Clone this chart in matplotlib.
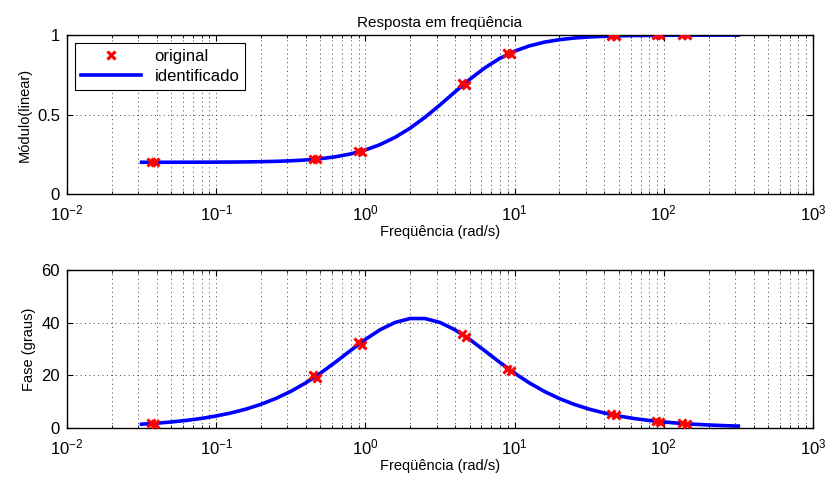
import matplotlib
matplotlib.use("Agg")
import matplotlib.pyplot as plt
from matplotlib.ticker import LogLocator, NullFormatter

plt.rcParams['font.family'] = ['Liberation Sans', 'DejaVu Sans']

# identified model curve
w_fit = [0.0316, 0.0398, 0.0501, 0.0631, 0.0794, 0.1, 0.1259, 0.1585, 0.1995, 0.2512,
         0.3162, 0.3981, 0.5012, 0.631, 0.7943, 1.0, 1.2589, 1.5849, 1.9953, 2.5119,
         3.1623, 3.9811, 5.0119, 6.3096, 7.9433, 10.0, 12.589, 15.849, 19.953, 25.119,
         31.623, 39.811, 50.119, 63.096, 79.433, 100.0, 125.89, 158.49, 199.53, 251.19, 316.23]
mag_fit = [0.2001, 0.2002, 0.2002, 0.2004, 0.2006, 0.2010, 0.2015, 0.2024, 0.2038, 0.2060,
           0.2093, 0.2146, 0.2226, 0.2346, 0.2523, 0.2774, 0.3118, 0.3573, 0.4146, 0.4832,
           0.5606, 0.6422, 0.7219, 0.7935, 0.8530, 0.8989, 0.9323, 0.9556, 0.9712, 0.9815,
           0.9882, 0.9925, 0.9953, 0.9970, 0.9981, 0.9988, 0.9992, 0.9995, 0.9997, 0.9998, 0.9999]
fase_fit = [1.45, 1.82, 2.30, 2.89, 3.63, 4.57, 5.73, 7.19, 9.00, 11.23,
            13.93, 17.15, 20.90, 25.06, 29.43, 33.69, 37.41, 40.16, 41.63, 41.62,
            40.14, 37.37, 33.65, 29.38, 25.01, 20.85, 17.12, 13.90, 11.20, 8.98,
            7.18, 5.72, 4.55, 3.62, 2.88, 2.29, 1.82, 1.45, 1.15, 0.91, 0.73]

# original measured points (two close samples per frequency)
w_orig = [0.0365, 0.039, 0.445, 0.475, 0.89, 0.95, 4.45, 4.75, 8.9, 9.5,
          44.5, 47.5, 89.0, 95.0, 133.5, 142.5]
mag_orig = [0.2003, 0.2003, 0.221, 0.218, 0.270, 0.265, 0.697, 0.688, 0.888, 0.880,
            0.995, 0.994, 0.999, 0.999, 0.999, 0.999]
fase_orig = [1.9, 1.6, 20.2, 19.0, 32.8, 31.6, 35.6, 34.5, 22.6, 21.8,
             5.3, 4.9, 2.6, 2.4, 1.8, 1.5]

fig = plt.figure(figsize=(8.27, 4.84), dpi=100)
ax1 = fig.add_axes([0.081, 0.599, 0.902, 0.3285])
ax2 = fig.add_axes([0.081, 0.1157, 0.902, 0.326])

dots = (0, (1, 3.5))


def style(ax, ylim, yticks):
    ax.set_xscale('log')
    ax.set_xlim(1e-2, 1e3)
    ax.set_ylim(*ylim)
    ax.set_yticks(yticks)
    ax.xaxis.set_major_locator(LogLocator(base=10, numticks=10))
    ax.xaxis.set_minor_locator(LogLocator(base=10, subs=range(2, 10), numticks=20))
    ax.xaxis.set_minor_formatter(NullFormatter())
    ax.tick_params(which='both', direction='in', top=True, right=True, labelsize=12)
    ax.tick_params(which='major', length=4)
    ax.tick_params(which='minor', length=2)
    ax.tick_params(axis='x', which='major', pad=7)
    ax.tick_params(axis='y', which='major', pad=5)
    ax.grid(True, which='major', linestyle=dots, color='0.25', linewidth=0.7)
    ax.grid(True, which='minor', axis='x', linestyle=dots, color='0.25', linewidth=0.7)
    for s in ax.spines.values():
        s.set_linewidth(1.0)
    ax.set_xlabel('Freqüência (rad/s)', fontsize=10.5, labelpad=1)


ax1.plot(w_orig, mag_orig, 'x', color='red', markersize=5.5, markeredgewidth=2.2,
         label='original', zorder=3)
ax1.plot(w_fit, mag_fit, '-', color='blue', linewidth=2.6, label='identificado', zorder=2)
style(ax1, (0, 1), [0, 0.5, 1])
ax1.set_yticklabels(['0', '0.5', '1'])
ax1.set_ylabel('Módulo(linear)', fontsize=10.5)
ax1.set_title('Resposta em freqüência', fontsize=11, pad=6)
leg = ax1.legend(loc='upper left', fontsize=12, fancybox=False, framealpha=1,
                 edgecolor='black', borderaxespad=0.5, handlelength=3.6,
                 borderpad=0.35, labelspacing=0.3)
leg.get_frame().set_linewidth(0.8)

ax2.plot(w_orig, fase_orig, 'x', color='red', markersize=5.5, markeredgewidth=2.2, zorder=3)
ax2.plot(w_fit, fase_fit, '-', color='blue', linewidth=2.6, zorder=2)
style(ax2, (0, 60), [0, 20, 40, 60])
ax2.set_ylabel('Fase (graus)', fontsize=10.5)

fig.savefig('out.png', dpi=100)
